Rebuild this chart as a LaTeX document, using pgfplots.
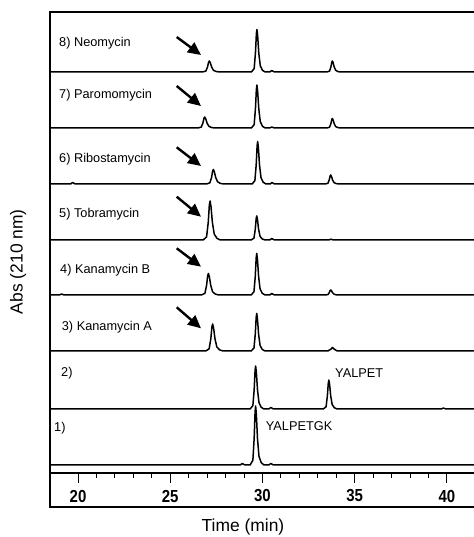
\documentclass[border=0pt]{standalone}
\usepackage{pgfplots}
\pgfplotsset{compat=1.18}
\usepackage{pgfplotstable}
\usepackage{fontspec}
\setmainfont{Liberation Sans}
\usetikzlibrary{arrows.meta}

% chromatogram traces: time (min), signal above own baseline
\pgfplotstableread{
t s
18.48 0
26.745 0
26.93 0.9
27.02 4.95
27.08 9.9
27.12 11
27.17 9.35
27.245 4.95
27.345 1.65
27.495 0.44
27.68 0
29.40 0
29.55 3.4
29.62 19.1
29.67 38.3
29.70 42.5
29.74 36.1
29.80 19.1
29.88 6.4
30.00 1.7
30.15 0
30.40 0
30.50 1.5
30.65 0
33.49 0
33.64 0.9
33.71 5.0
33.76 9.9
33.79 11
33.83 9.4
33.89 5.0
33.97 1.7
34.09 0.4
34.24 0
41.47 0
}\neomycin

\pgfplotstableread{
t s
18.48 0
26.495 0
26.68 0.9
26.77 4.95
26.83 9.9
26.87 11
26.92 9.35
26.995 4.95
27.095 1.65
27.245 0.44
27.43 0
29.40 0
29.55 3.4
29.62 19.4
29.67 38.7
29.70 43
29.74 36.6
29.80 19.4
29.88 6.5
30.00 1.7
30.15 0
30.40 0
30.50 1.0
30.65 0
33.49 0
33.64 0.8
33.71 4.3
33.76 8.6
33.79 9.5
33.83 8.1
33.89 4.3
33.97 1.4
34.09 0.4
34.24 0
41.47 0
}\paromomycin

\pgfplotstableread{
t s
18.48 0
19.60 0
19.70 1.5
19.85 0
26.965 0
27.15 1.2
27.24 6.5
27.30 13.1
27.34 14.5
27.39 12.3
27.465 6.5
27.565 2.2
27.715 0.6
27.90 0
29.44 0
29.59 3.4
29.66 19.1
29.71 38.3
29.74 42.5
29.78 36.1
29.84 19.1
29.92 6.4
30.04 1.7
30.19 0
30.42 0
30.52 1.5
30.65 0
33.40 0
33.55 0.7
33.62 4.1
33.67 8.1
33.70 9
33.74 7.7
33.80 4.1
33.88 1.4
34.00 0.4
34.15 0
41.47 0
}\ribostamycin

\pgfplotstableread{
t s
18.48 0
26.785 0
26.97 3.1
27.06 17.6
27.12 35.1
27.16 39
27.21 33.2
27.285 17.6
27.385 5.9
27.535 1.6
27.72 0
29.39 0
29.54 1.9
29.61 10.8
29.66 21.6
29.69 24
29.73 20.4
29.79 10.8
29.87 3.6
29.99 1.0
30.14 0
30.40 0
30.50 1.5
30.65 0
33.60 0
33.70 0.8
33.85 0
41.47 0
}\tobramycin

\pgfplotstableread{
t s
18.48 0
19.00 0
19.10 1.0
19.25 0
26.695 0
26.88 1.7
26.97 9.7
27.03 19.4
27.07 21.5
27.12 18.3
27.195 9.7
27.295 3.2
27.445 0.9
27.63 0
29.39 0
29.54 3.3
29.61 18.7
29.66 37.4
29.69 41.5
29.73 35.3
29.79 18.7
29.87 6.2
29.99 1.7
30.14 0
30.40 0
30.50 1.5
30.65 0
33.40 0
33.55 0.4
33.62 2.3
33.67 4.5
33.70 5
33.74 4.3
33.80 2.3
33.88 0.8
34.00 0.2
34.15 0
41.47 0
}\kanamycinB

\pgfplotstableread{
t s
18.48 0
26.925 0
27.11 2.2
27.20 12.2
27.26 24.3
27.30 27
27.35 23
27.425 12.2
27.525 4.1
27.675 1.1
27.86 0
29.39 0
29.54 3.0
29.61 16.9
29.66 33.8
29.69 37.5
29.73 31.9
29.79 16.9
29.87 5.6
29.99 1.5
30.14 0
33.55 0
33.72 2.0
33.80 3.5
33.88 2.0
34.05 0
41.47 0
}\kanamycinA

\pgfplotstableread{
t s
18.48 0
29.33 0
29.48 3.4
29.55 19.4
29.60 38.7
29.63 43
29.67 36.6
29.73 19.4
29.81 6.5
29.93 1.7
30.08 0
30.35 0
30.45 1.5
30.60 0
33.30 0
33.45 2.3
33.52 13.1
33.57 26.1
33.60 29
33.64 24.7
33.70 13.1
33.78 4.4
33.90 1.2
34.05 0
39.70 0
39.80 1.0
39.95 0
41.47 0
}\yalpet

\pgfplotstableread{
t s
18.48 0
28.80 0
28.90 1.5
29.05 0
29.33 0
29.48 4.7
29.55 26.6
29.60 53.1
29.63 59
29.67 50.2
29.73 26.6
29.81 8.9
29.93 2.4
30.08 0
30.35 0
30.45 1.5
30.60 0
41.47 0
}\yalpetgk

\begin{document}
\begin{tikzpicture}
\useasboundingbox (0,0) rectangle (474bp,537bp);
\pgfplotsset{trace/.style={black, line width=1.5bp, mark=none, line join=round}}

% trace panel
\begin{axis}[
  at={(50bp,30bp)}, anchor=south west,
  scale only axis, width=424bp, height=495bp,
  xmin=18.48, xmax=41.47, ymin=30, ymax=525,
  axis lines=none, ticks=none,
]
\addplot[trace] table[x=t, y expr=\thisrow{s}+465] {\neomycin};
\addplot[trace] table[x=t, y expr=\thisrow{s}+409] {\paromomycin};
\addplot[trace] table[x=t, y expr=\thisrow{s}+353] {\ribostamycin};
\addplot[trace] table[x=t, y expr=\thisrow{s}+297] {\tobramycin};
\addplot[trace] table[x=t, y expr=\thisrow{s}+242] {\kanamycinB};
\addplot[trace] table[x=t, y expr=\thisrow{s}+186] {\kanamycinA};
\addplot[trace] table[x=t, y expr=\thisrow{s}+128] {\yalpet};
\addplot[trace] table[x=t, y expr=\thisrow{s}+72] {\yalpetgk};
\end{axis}

% time strip
\begin{axis}[
  at={(50bp,30bp)}, anchor=south west,
  scale only axis, width=424bp, height=34bp,
  xmin=18.48, xmax=41.47, ymin=0, ymax=1,
  axis x line*=top, axis y line=none,
  x axis line style={line width=1.2bp, -},
  xtick={20,25,30,35,40},
  minor x tick num=4,
  tick align=inside,
  major tick length=10bp, minor tick length=5bp,
  tick style={black, line width=1bp},
  xticklabel={\scalebox{0.86}[1]{\pgfmathprintnumber{\tick}}},
  xticklabel style={anchor=center, yshift=-23bp,
    font=\fontsize{17.5}{19}\selectfont\bfseries},
  /pgf/number format/assume math mode=true,
]
\end{axis}

\begin{scope}[x=1bp, y=1bp]
% frame
\draw[line width=2bp, line cap=rect] (474,525) -- (50,525) -- (50,30) -- (474,30);

% axis titles
\node[font=\fontsize{17.5}{20}\selectfont] at (243,10.3) {Time (min)};
\node[font=\fontsize{17.5}{20}\selectfont, rotate=90] at (18,275.3) {Abs (210 nm)};

% sample labels
\begin{scope}[every node/.style={anchor=base west, inner sep=0pt, font=\fontsize{12.8}{15}\selectfont}]
\node at (59,490.2) {8) Neomycin};
\node at (59,438.4) {7) Paromomycin};
\node at (59,374.8) {6) Ribostamycin};
\node at (59,319.2) {5) Tobramycin};
\node at (60,263.5) {4) Kanamycin B};
\node at (61.7,206.8) {3) Kanamycin A};
\node at (61,160.8) {2)};
\node at (54,105.8) {1)};
\node at (335,159.8) {YALPET};
\node at (265.7,106.8) {YALPETGK};
\end{scope}

% arrows to the aminoglycoside peaks
\begin{scope}[line width=2.4bp, -{Triangle[length=13bp,width=12bp]}]
\draw (176.7,500) -- (201,482);
\draw (176.7,451) -- (201,431);
\draw (176.7,389.7) -- (201,371);
\draw (176.7,340.3) -- (201,320.3);
\draw (176.7,288.7) -- (201,270.3);
\draw (176.7,229.7) -- (201,208.7);
\end{scope}
\end{scope}
\end{tikzpicture}
\end{document}
